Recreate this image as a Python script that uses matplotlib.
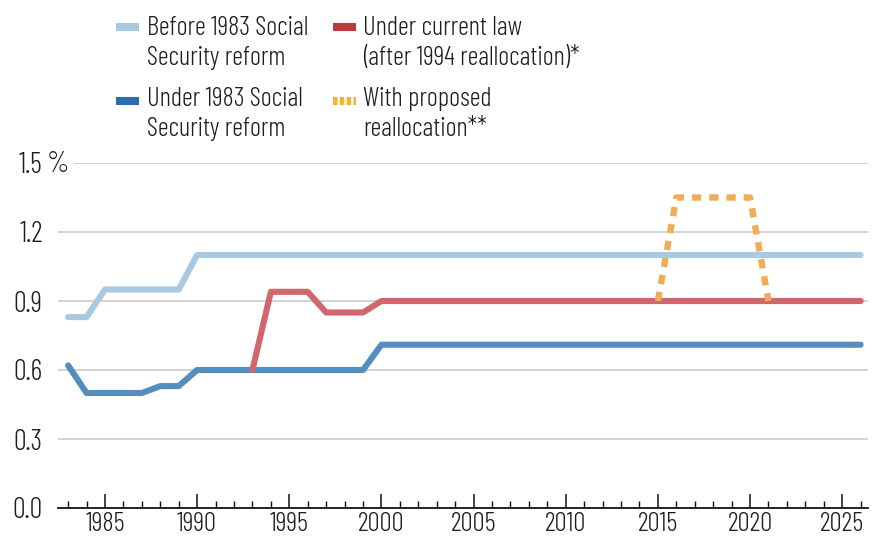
import matplotlib
matplotlib.use("Agg")
import matplotlib.pyplot as plt
from matplotlib.lines import Line2D
from matplotlib.ticker import MultipleLocator, FixedLocator

# ---------------- data ----------------
years = [1983, 1984, 1985, 1986, 1987, 1988, 1989, 1990, 1991, 1992, 1993,
         1994, 1995, 1996, 1997, 1998, 1999, 2000, 2001, 2002, 2003, 2004,
         2005, 2006, 2007, 2008, 2009, 2010, 2011, 2012, 2013, 2014, 2015,
         2016, 2017, 2018, 2019, 2020, 2021, 2022, 2023, 2024, 2025, 2026]
before_1983 = [0.83, 0.83, 0.95, 0.95, 0.95, 0.95, 0.95, 1.10, 1.10, 1.10, 1.10,
               1.10, 1.10, 1.10, 1.10, 1.10, 1.10, 1.10, 1.10, 1.10, 1.10, 1.10,
               1.10, 1.10, 1.10, 1.10, 1.10, 1.10, 1.10, 1.10, 1.10, 1.10, 1.10,
               1.10, 1.10, 1.10, 1.10, 1.10, 1.10, 1.10, 1.10, 1.10, 1.10, 1.10]
under_1983 = [0.62, 0.50, 0.50, 0.50, 0.50, 0.53, 0.53, 0.60, 0.60, 0.60, 0.60,
              0.60, 0.60, 0.60, 0.60, 0.60, 0.60, 0.71, 0.71, 0.71, 0.71, 0.71,
              0.71, 0.71, 0.71, 0.71, 0.71, 0.71, 0.71, 0.71, 0.71, 0.71, 0.71,
              0.71, 0.71, 0.71, 0.71, 0.71, 0.71, 0.71, 0.71, 0.71, 0.71, 0.71]
current_years = [1993, 1994, 1995, 1996, 1997, 1998, 1999, 2000, 2001, 2002,
                 2003, 2004, 2005, 2006, 2007, 2008, 2009, 2010, 2011, 2012,
                 2013, 2014, 2015, 2016, 2017, 2018, 2019, 2020, 2021, 2022,
                 2023, 2024, 2025, 2026]
current_law = [0.60, 0.94, 0.94, 0.94, 0.85, 0.85, 0.85, 0.90, 0.90, 0.90,
               0.90, 0.90, 0.90, 0.90, 0.90, 0.90, 0.90, 0.90, 0.90, 0.90,
               0.90, 0.90, 0.90, 0.90, 0.90, 0.90, 0.90, 0.90, 0.90, 0.90,
               0.90, 0.90, 0.90, 0.90]
proposed_years = [2015, 2016, 2017, 2018, 2019, 2020, 2021]
proposed = [0.90, 1.35, 1.35, 1.35, 1.35, 1.35, 0.90]

y_ticks = [0.0, 0.3, 0.6, 0.9, 1.2, 1.5]
y_labels = ["0.0", "0.3", "0.6", "0.9", "1.2", "1.5"]
x_ticks = [1985, 1990, 1995, 2000, 2005, 2010, 2015, 2020, 2025]

legend_labels = ["Before 1983 Social\nSecurity reform",
                 "Under 1983 Social\nSecurity reform",
                 "Under current law\n(after 1994 reallocation)*",
                 "With proposed\nreallocation**"]

# ---------------- style ----------------
FONT = ["Barlow Condensed", "IBM Plex Sans Condensed", "DejaVu Sans"]
plt.rcParams["font.family"] = FONT
plt.rcParams["font.weight"] = 300
TXT = "#1e1e1e"
c_light = "#a9c9e2"
c_dark = "#538ebf"
c_red = "#d0676c"
c_orange = "#f0ad58"
s_light = "#a6c8e3"
s_dark = "#2c6cab"
s_red = "#c0393f"
s_orange = "#f5b335"
FS = 19.2      # legend
FS_T = 20.5    # y tick labels
FS_X = 19.5    # x tick labels

W, H = 874, 539
fig = plt.figure(figsize=(W / 100, H / 100), dpi=100)

def fx(px):
    return px / W

def fy(py):
    return 1 - py / H

ax_l, ax_r, ax_b, ax_t = 58, 868, 508, 163
ax = fig.add_axes([fx(ax_l), fy(ax_b), fx(ax_r - ax_l), (ax_b - ax_t) / H])
ax.set_xlim(1982.45, 2026.4)
ax.set_ylim(0, 1.5)

for yv in y_ticks[1:]:
    ax.axhline(yv, color="#c6c6c6", lw=1.1, zorder=1)

lw = 4.4
ax.plot(years, before_1983, color=c_light, lw=lw, solid_capstyle="round",
        solid_joinstyle="round", zorder=3)
ax.plot(years, under_1983, color=c_dark, lw=lw, solid_capstyle="round",
        solid_joinstyle="round", zorder=3)
ax.plot(current_years, current_law, color=c_red, lw=lw, solid_capstyle="round",
        solid_joinstyle="round", zorder=4)
ax.plot(proposed_years, proposed, color=c_orange, lw=4.6,
        linestyle=(0, (1.45, 1.25)), dash_capstyle="butt", zorder=5)

for s in ["top", "right", "left"]:
    ax.spines[s].set_visible(False)
ax.spines["bottom"].set_color("#111111")
ax.spines["bottom"].set_linewidth(1.3)
ax.spines["bottom"].set_zorder(6)

ax.xaxis.set_major_locator(FixedLocator(x_ticks))
ax.xaxis.set_minor_locator(MultipleLocator(1))
ax.tick_params(axis="x", which="major", direction="in", length=10, width=1.1,
               color="#111111", pad=3, labelsize=FS_X, labelcolor=TXT)
ax.tick_params(axis="x", which="minor", direction="in", length=5, width=1.0,
               color="#111111")
ax.set_yticks(y_ticks)
ax.set_yticklabels(y_labels)
ax.tick_params(axis="y", length=0, pad=11, labelsize=FS_T, labelcolor=TXT)

# percent sign after top label, masking the gridline start
fig.text(fx(47), fy(164), "%", fontsize=FS_T, color=TXT, va="center", ha="left",
         bbox=dict(facecolor="white", edgecolor="none", pad=3))

# ---------------- legend (manual) ----------------
sw_col = [(116, 139), (333, 356)]
txt_x = [147, 363]
row_y = [27, 101]
row_base = [(35, 65), (106, 136)]
swatches = [(s_light, "-"), (s_dark, "-"), (s_red, "-"), (s_orange, (0, (0.55, 0.3)))]
for i, (lab, (col, ls)) in enumerate(zip(legend_labels, swatches)):
    c = i // 2
    r = i % 2
    x0, x1 = sw_col[c]
    fig.add_artist(Line2D([fx(x0), fx(x1)], [fy(row_y[r]), fy(row_y[r])],
                          transform=fig.transFigure, color=col, lw=5.8,
                          linestyle=ls, solid_capstyle="butt", dash_capstyle="butt"))
    for line, yb in zip(lab.split("\n"), row_base[r]):
        fig.text(fx(txt_x[c]), fy(yb), line, fontsize=FS, color=TXT,
                 va="baseline", ha="left")

fig.savefig("out.png", dpi=100)
